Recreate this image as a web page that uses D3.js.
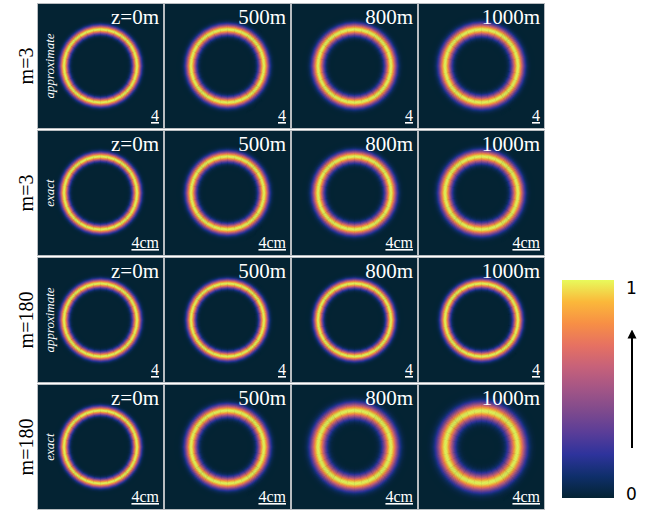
<!DOCTYPE html>
<html>
<head>
<meta charset="utf-8">
<script src="https://cdn.jsdelivr.net/npm/d3@7"></script>
<style>
  body { margin: 0; background: #fff; }
  svg { display: block; }
</style>
</head>
<body>
<script>
// chart data
var rowLabels = ['m=3', 'm=3', 'm=180', 'm=180']
var methods = ['approximate', 'exact', 'approximate', 'exact']
var zLabels = ['z=0m', '500m', '800m', '1000m']
var scaleLabels = ['4', '4cm', '4', '4cm']
// ring peak radius (cm) per row / column
var ringRadius = [
  [5.3, 5.3, 5.3, 5.3],
  [5.3, 5.3, 5.3, 5.3],
  [5.3, 5.3, 5.3, 5.3],
  [5.3, 5.3, 5.3, 5.25]
]
// ring width (gaussian sigma, cm)
var ringWidth = [
  [0.42, 0.50, 0.56, 0.60],
  [0.42, 0.50, 0.56, 0.60],
  [0.42, 0.43, 0.44, 0.45],
  [0.42, 0.58, 0.72, 0.82]
]
var cbTicks = [0, 1]

var W = 654, H = 511
var svg = d3.select('body').append('svg').attr('width', W).attr('height', H)

var colLeft = 38, rowTop = 4, pitchX = 127, pitchY = 127
var panelW = 125, panelH = 124

var sx = d3.scaleLinear().domain([-9, 9]).range([0, panelW])
var pxPerCm = sx(1) - sx(0)

// thermal-like colour map
var cmapStops = ['#042333', '#0f2f6b', '#2e339c', '#5a3d98', '#7f4a8d', '#a35586',
  '#c6617a', '#e67162', '#f78f45', '#fbb83a', '#e8fa5b']
var color = d3.scaleLinear()
  .domain(d3.range(cmapStops.length).map(function(i) { return i / (cmapStops.length - 1) }))
  .range(cmapStops)
  .interpolate(d3.interpolateRgb)
  .clamp(true)

var defs = svg.append('defs')

rowLabels.forEach(function(rl, r) {
  var py = rowTop + r * pitchY

  svg.append('text')
    .text(rl)
    .attr('transform', `translate(33,${py + panelH / 2}) rotate(-90)`)
    .attr('text-anchor', 'middle')
    .attr('font-family', 'Liberation Serif, serif')
    .attr('font-size', 20)
    .attr('fill', '#000')

  zLabels.forEach(function(zl, c) {
    var px = colLeft + c * pitchX
    var id = 'clip' + r + '_' + c
    defs.append('clipPath').attr('id', id)
      .append('rect').attr('width', panelW).attr('height', panelH)

    var g = svg.append('g').attr('transform', `translate(${px},${py})`)
    g.append('rect').attr('width', panelW).attr('height', panelH).attr('fill', color(0))

    var r0 = ringRadius[r][c], s = ringWidth[r][c]
    var samples = d3.range(r0 - 4 * s, r0 + 4 * s, 0.06)
    g.append('g').attr('clip-path', `url(#${id})`)
      .selectAll('circle')
      .data(samples)
      .enter()
      .append('circle')
      .attr('cx', sx(0))
      .attr('cy', panelH / 2)
      .attr('r', function(d) { return d * pxPerCm })
      .attr('fill', 'none')
      .attr('stroke-width', 0.06 * pxPerCm + 0.4)
      .attr('stroke', function(d) {
        var t = (d - r0) / s
        return color(Math.exp(-t * t / 2))
      })

    g.append('rect').attr('x', -0.5).attr('y', -0.5)
      .attr('width', panelW + 1).attr('height', panelH + 1)
      .attr('fill', 'none').attr('stroke', '#b8bcc0').attr('stroke-width', 1)

    g.append('text')
      .text(zl)
      .attr('x', panelW - 4).attr('y', 20)
      .attr('text-anchor', 'end')
      .attr('font-family', 'Liberation Serif, serif')
      .attr('font-size', 21)
      .attr('fill', '#fff')

    g.append('text')
      .text(scaleLabels[r])
      .attr('x', panelW - 4).attr('y', panelH - 7)
      .attr('text-anchor', 'end')
      .attr('font-family', 'Liberation Serif, serif')
      .attr('font-size', 16)
      .attr('text-decoration', 'underline')
      .attr('fill', '#fff')

    if (c == 0) {
      g.append('text')
        .text(methods[r])
        .attr('transform', `translate(16,${panelH / 2}) rotate(-90)`)
        .attr('text-anchor', 'middle')
        .attr('font-family', 'Liberation Serif, serif')
        .attr('font-style', 'italic')
        .attr('font-size', 13)
        .attr('fill', '#fff')
    }
  })
})

// colour bar
var cb = { x: 562, y: 280, w: 52, h: 218 }
var grad = defs.append('linearGradient').attr('id', 'cbgrad')
  .attr('x1', 0).attr('y1', 1).attr('x2', 0).attr('y2', 0)
grad.selectAll('stop').data(cmapStops).enter().append('stop')
  .attr('offset', function(d, i) { return i / (cmapStops.length - 1) })
  .attr('stop-color', function(d) { return d })

svg.append('rect').attr('x', cb.x).attr('y', cb.y).attr('width', cb.w).attr('height', cb.h)
  .attr('fill', 'url(#cbgrad)')

var cbScale = d3.scaleLinear().domain([0, 1]).range([cb.y + cb.h, cb.y])
svg.selectAll('.cbtick').data(cbTicks).enter().append('text')
  .attr('class', 'cbtick')
  .text(function(d) { return d })
  .attr('x', 626)
  .attr('y', function(d) { return d == 1 ? cbScale(d) + 14 : cbScale(d) + 2 })
  .attr('font-family', 'DejaVu Sans, sans-serif')
  .attr('font-size', 17)
  .attr('fill', '#000')

defs.append('marker').attr('id', 'arrow')
  .attr('viewBox', '0 0 10 10').attr('refX', 5).attr('refY', 5)
  .attr('markerWidth', 4.5).attr('markerHeight', 5.5)
  .attr('orient', 'auto')
  .append('path').attr('d', 'M0,0 L10,5 L0,10 z').attr('fill', '#000')

svg.append('line')
  .attr('x1', 632).attr('y1', 448)
  .attr('x2', 632).attr('y2', 334)
  .attr('stroke', '#000').attr('stroke-width', 2)
  .attr('marker-end', 'url(#arrow)')
</script>
</body>
</html>
